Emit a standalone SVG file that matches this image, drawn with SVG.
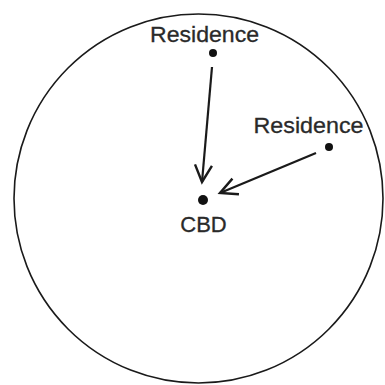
<svg xmlns="http://www.w3.org/2000/svg" width="385" height="385" viewBox="0 0 385 385">
<style>
.lbl{font-family:"Liberation Sans",Arial,sans-serif;font-size:22px;fill:#2a2a2a;stroke:#2a2a2a;stroke-width:0.3;}
.dot{fill:#111;}
.edge{stroke:#1a1a1a;stroke-width:2.2;fill:none;}
</style>
<defs>
<marker id="arr" markerUnits="userSpaceOnUse" markerWidth="24" markerHeight="24" refX="18" refY="10" orient="auto" viewBox="0 0 24 20">
<path d="M1,1.5 L18,10 L1,18.5" fill="none" stroke="#1a1a1a" stroke-width="2.4" stroke-linejoin="miter"/>
</marker>
</defs>
<circle cx="198.5" cy="198.5" r="184.5" fill="none" stroke="#1a1a1a" stroke-width="1.6"/>
<g id="connectors">
<line class="edge" x1="212" y1="67" x2="202" y2="182" marker-end="url(#arr)"/>
<line class="edge" x1="316" y1="153" x2="220" y2="193" marker-end="url(#arr)"/>
</g>
<g id="residence1">
<circle class="dot" cx="213" cy="53" r="4"/>
<text class="lbl" x="204.5" y="41.5" text-anchor="middle" textLength="109" lengthAdjust="spacingAndGlyphs">Residence</text>
</g>
<g id="residence2">
<circle class="dot" cx="329" cy="147" r="4"/>
<text class="lbl" x="308.5" y="133" text-anchor="middle" textLength="110" lengthAdjust="spacingAndGlyphs">Residence</text>
</g>
<g id="cbd">
<circle class="dot" cx="203" cy="200" r="5"/>
<text class="lbl" x="203.5" y="232" text-anchor="middle">CBD</text>
</g>
</svg>
